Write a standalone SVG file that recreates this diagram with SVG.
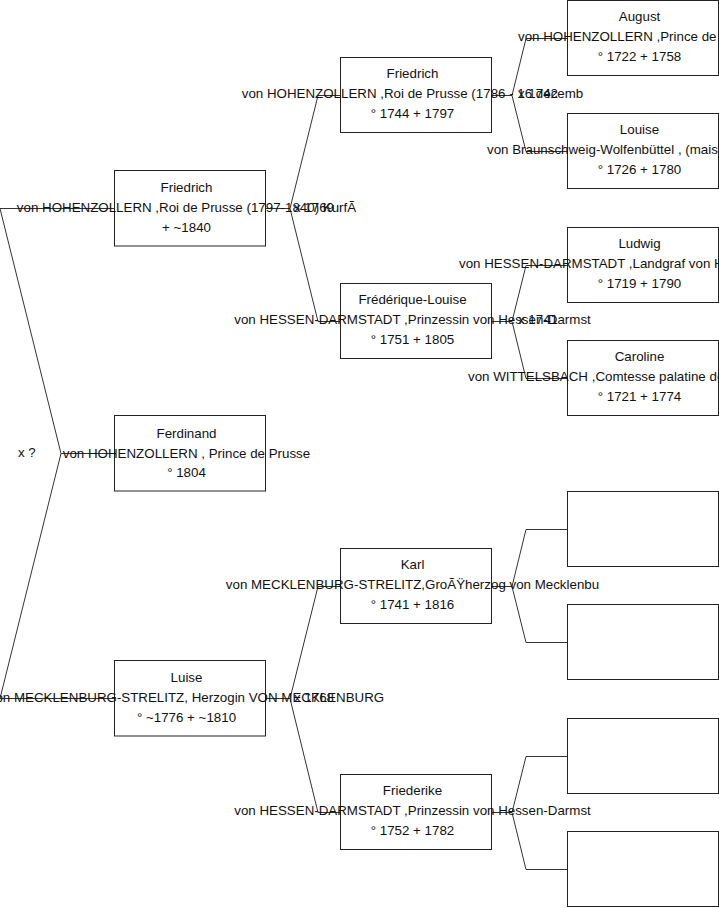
<svg xmlns="http://www.w3.org/2000/svg" width="719" height="908" viewBox="0 0 719 908">
<style>
.box{fill:#fff;stroke:#222;stroke-width:1}
.t{font-family:"Liberation Sans",Arial,sans-serif;font-size:13.33px;fill:#111;text-anchor:middle}
.s{text-anchor:start}
.c{fill:none;stroke:#333;stroke-width:1}
</style>
<rect width="719" height="908" fill="#fff"/>
<g id="connectors">
<path class="c" d="M0,208.5H114.5 M0,698.5H114.5 M61,453.5H114.5 M0,208.5L61,453.5L0,698.5"/>
<path class="c" d="M265.5,208.5H290 M290,208.5L318,95.5H340.5 M290,208.5L318,321.5H340.5"/>
<path class="c" d="M265.5,698.5H290 M290,698.5L318,586.5H340.5 M290,698.5L318,812.5H340.5"/>
<path class="c" d="M491.5,95.5H512 M512,95.5L526,38.5H567.5 M512,95.5L526,151.5H567.5"/>
<path class="c" d="M491.5,321.5H512 M512,321.5L526,265.5H567.5 M512,321.5L526,378.5H567.5"/>
<path class="c" d="M491.5,586.5H512 M512,586.5L526,529.5H567.5 M512,586.5L526,642.5H567.5"/>
<path class="c" d="M491.5,812.5H512 M512,812.5L526,756.5H567.5 M512,812.5L526,869.5H567.5"/>
</g>
<g id="n-friedrich3">
<rect class="box" x="114.5" y="170.5" width="151" height="75.5"/>
<text class="t" x="186.5" y="192">Friedrich</text>
<text class="t" x="186.5" y="212">von HOHENZOLLERN ,Roi de Prusse (1797-1840) Kurf&#xC3;</text>
<text class="t" x="186.5" y="231.5">+ ~1840</text>
</g>
<g id="n-ferdinand">
<rect class="box" x="114.5" y="415.5" width="151" height="75.5"/>
<text class="t" x="186.5" y="437.5">Ferdinand</text>
<text class="t" x="186.5" y="457.5">von HOHENZOLLERN , Prince de Prusse</text>
<text class="t" x="186.5" y="477">° 1804</text>
</g>
<g id="n-luise">
<rect class="box" x="114.5" y="660.5" width="151" height="75.5"/>
<text class="t" x="186.5" y="682">Luise</text>
<text class="t" x="186.5" y="702">von MECKLENBURG-STRELITZ, Herzogin VON MECKLENBURG</text>
<text class="t" x="186.5" y="721.5">° ~1776 + ~1810</text>
</g>
<g id="n-friedrich2">
<rect class="box" x="340.5" y="57.5" width="151" height="75"/>
<text class="t" x="412.5" y="78">Friedrich</text>
<text class="t" x="412.5" y="98">von HOHENZOLLERN ,Roi de Prusse (1786 - 16 décemb</text>
<text class="t" x="412.5" y="117.5">° 1744 + 1797</text>
</g>
<g id="n-frederique">
<rect class="box" x="340.5" y="283.5" width="151" height="75"/>
<text class="t" x="412.5" y="304">Frédérique-Louise</text>
<text class="t" x="412.5" y="324">von HESSEN-DARMSTADT ,Prinzessin von Hessen-Darmst</text>
<text class="t" x="412.5" y="343.5">° 1751 + 1805</text>
</g>
<g id="n-karl">
<rect class="box" x="340.5" y="548.5" width="151" height="75"/>
<text class="t" x="412.5" y="569">Karl</text>
<text class="t" x="412.5" y="589">von MECKLENBURG-STRELITZ,Gro&#xC3;&#x178;herzog von Mecklenbu</text>
<text class="t" x="412.5" y="608.5">° 1741 + 1816</text>
</g>
<g id="n-friederike">
<rect class="box" x="340.5" y="774.5" width="151" height="75"/>
<text class="t" x="412.5" y="795">Friederike</text>
<text class="t" x="412.5" y="815">von HESSEN-DARMSTADT ,Prinzessin von Hessen-Darmst</text>
<text class="t" x="412.5" y="834.5">° 1752 + 1782</text>
</g>
<g id="n-august">
<rect class="box" x="567.5" y="0.5" width="151" height="75"/>
<text class="t" x="639.5" y="21">August</text>
<text class="t s" x="518" y="41">von HOHENZOLLERN ,Prince de</text>
<text class="t" x="639.5" y="60.5">° 1722 + 1758</text>
</g>
<g id="n-louise">
<rect class="box" x="567.5" y="113.5" width="151" height="75"/>
<text class="t" x="639.5" y="134">Louise</text>
<text class="t s" x="487" y="154">von Braunschweig-Wolfenbüttel , (mais</text>
<text class="t" x="639.5" y="173.5">° 1726 + 1780</text>
</g>
<g id="n-ludwig">
<rect class="box" x="567.5" y="227.5" width="151" height="75"/>
<text class="t" x="639.5" y="248">Ludwig</text>
<text class="t s" x="459" y="268">von HESSEN-DARMSTADT ,Landgraf von H</text>
<text class="t" x="639.5" y="287.5">° 1719 + 1790</text>
</g>
<g id="n-caroline">
<rect class="box" x="567.5" y="340.5" width="151" height="75"/>
<text class="t" x="639.5" y="361">Caroline</text>
<text class="t s" x="468" y="381">von WITTELSBACH ,Comtesse palatine de</text>
<text class="t" x="639.5" y="400.5">° 1721 + 1774</text>
</g>
<g id="n-empty1"><rect class="box" x="567.5" y="491.5" width="151" height="75"/></g>
<g id="n-empty2"><rect class="box" x="567.5" y="604.5" width="151" height="75"/></g>
<g id="n-empty3"><rect class="box" x="567.5" y="718.5" width="151" height="75"/></g>
<g id="n-empty4"><rect class="box" x="567.5" y="831.5" width="151" height="75"/></g>
<g id="labels">
<text class="t s" x="18" y="457">x ?</text>
<text class="t s" x="294" y="212">x 1769</text>
<text class="t s" x="294" y="702">x 1768</text>
<text class="t s" x="518" y="98">x 1742</text>
<text class="t s" x="518" y="324">x 1741</text>
</g>
</svg>
